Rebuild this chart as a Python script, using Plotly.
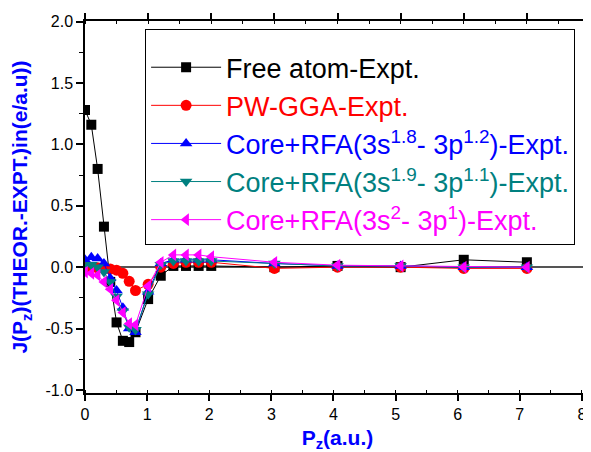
import plotly.graph_objects as go

pz = [0, 0.1, 0.2, 0.3, 0.4, 0.5, 0.6, 0.7, 0.8, 1.0, 1.2, 1.4, 1.6, 1.8, 2.0, 3.0, 4.0, 5.0, 6.0, 7.0]
free_atom = [1.28, 1.16, 0.80, 0.33, -0.12, -0.45, -0.60, -0.61, -0.53, -0.26, -0.07, 0.01, 0.01, 0.01, 0.01, 0.00, 0.01, 0.00, 0.06, 0.04]
pw_gga = [0.0, -0.005, -0.005, -0.01, -0.015, -0.025, -0.05, -0.115, -0.19, -0.14, 0.0, 0.03, 0.04, 0.04, 0.04, -0.01, 0.0, 0.0, -0.01, -0.01]
rfa_18 = [0.06, 0.08, 0.07, 0.03, -0.09, -0.19, -0.33, -0.50, -0.53, -0.20, 0.03, 0.06, 0.06, 0.06, 0.06, 0.03, 0.01, 0.01, 0.0, 0.0]
rfa_19 = [0.01, 0.02, 0.0, -0.04, -0.12, -0.24, -0.36, -0.49, -0.51, -0.22, 0.02, 0.05, 0.05, 0.05, 0.05, 0.03, 0.01, 0.01, 0.0, 0.0]
rfa_20 = [-0.04, -0.05, -0.065, -0.12, -0.18, -0.27, -0.37, -0.46, -0.47, -0.155, 0.04, 0.10, 0.10, 0.10, 0.085, 0.04, 0.016, 0.01, 0.0, 0.0]

x_ticks = [0, 1, 2, 3, 4, 5, 6, 7, 8]
y_ticks = [-1.0, -0.5, 0.0, 0.5, 1.0, 1.5, 2.0]

names = [
    '<span style="color:#000000">Free atom-Expt.</span>',
    '<span style="color:#ff0000">PW-GGA-Expt.</span>',
    '<span style="color:#0000ff">Core+RFA(3s<sup>1.8</sup>- 3p<sup>1.2</sup>)-Expt.</span>',
    '<span style="color:#008080">Core+RFA(3s<sup>1.9</sup>- 3p<sup>1.1</sup>)-Expt.</span>',
    '<span style="color:#ff00ff">Core+RFA(3s<sup>2</sup>- 3p<sup>1</sup>)-Expt.</span>',
]
series = [free_atom, pw_gga, rfa_18, rfa_19, rfa_20]
colors = ["#000000", "#ff0000", "#0000ff", "#008080", "#ff00ff"]
symbols = ["square", "circle", "triangle-up", "triangle-down", "triangle-left"]
sizes = [10, 11, 11, 11, 11]

fig = go.Figure()
# empty trace so that the bottom (label) axis is drawn
fig.add_trace(go.Scatter(x=[], y=[], xaxis="x", yaxis="y", showlegend=False, hoverinfo="skip"))
for i, (nm, ys, c, s, sz) in enumerate(zip(names, series, colors, symbols, sizes)):
    fig.add_trace(go.Scatter(
        x=pz, y=ys, name=nm, mode="lines+markers", xaxis="x2", yaxis="y",
        line=dict(color=c, width=1),
        marker=dict(symbol=s, size=sz, color=c, line=dict(width=0)),
        legendgroup=f"g{i}",
    ))

axis_font = dict(family="Liberation Sans, Arial, sans-serif", size=16, color="black")
title_font = dict(family="Liberation Sans, Arial, sans-serif", size=21, color="#0000ff")

fig.update_layout(
    width=583, height=444,
    margin=dict(l=77, r=1, t=13, b=59),
    paper_bgcolor="white", plot_bgcolor="white",
    showlegend=True,
    legend=dict(
        x=0.119, y=0.978, xanchor="left", yanchor="top",
        bgcolor="white", bordercolor="black", borderwidth=1,
        font=dict(family="Liberation Sans, Arial, sans-serif", size=27, color="black"),
        itemwidth=70, tracegroupgap=0,
        title=dict(text=" ", font=dict(size=10)),
    ),
    xaxis=dict(
        range=[0, 8.13], tickvals=x_ticks, ticktext=[str(t) for t in x_ticks],
        showline=True, linecolor="black", linewidth=1.5,
        ticks="outside", ticklen=6, tickwidth=1.5, tickcolor="black",
        minor=dict(dtick=0.5, ticks="inside", ticklen=3, tickwidth=1, tickcolor="black"),
        showgrid=False, zeroline=False, tickfont=axis_font, automargin=False,
        title=dict(text="<b>P<sub>z</sub>(a.u.)</b>", font=title_font, standoff=15),
    ),
    xaxis2=dict(
        range=[0, 8.0], overlaying="x", side="top", anchor="y",
        showline=True, linecolor="black", linewidth=1.5,
        dtick=1, tick0=0, ticks="outside", ticklen=6, tickwidth=1.5, tickcolor="black",
        minor=dict(dtick=0.5, ticks="inside", ticklen=3, tickwidth=1, tickcolor="black"),
        showticklabels=False, showgrid=False, zeroline=False, automargin=False,
    ),
    yaxis=dict(
        range=[-1.025, 2.005], tickvals=y_ticks, ticktext=[f"{t:.1f}" for t in y_ticks],
        showline=True, linecolor="black", linewidth=1.5, mirror=True,
        ticks="outside", ticklen=7, tickwidth=1.5, tickcolor="black",
        minor=dict(dtick=0.25, ticks="outside", ticklen=4, tickwidth=1, tickcolor="black"),
        showgrid=False, zeroline=True, zerolinecolor="#555555", zerolinewidth=1.5,
        tickfont=axis_font, automargin=False,
        title=dict(text="<b>J(P<sub>z</sub>)(THEOR.-EXPT.)in(e/a.u))</b>", font=title_font, standoff=12),
    ),
)

fig.write_html("out.html")
